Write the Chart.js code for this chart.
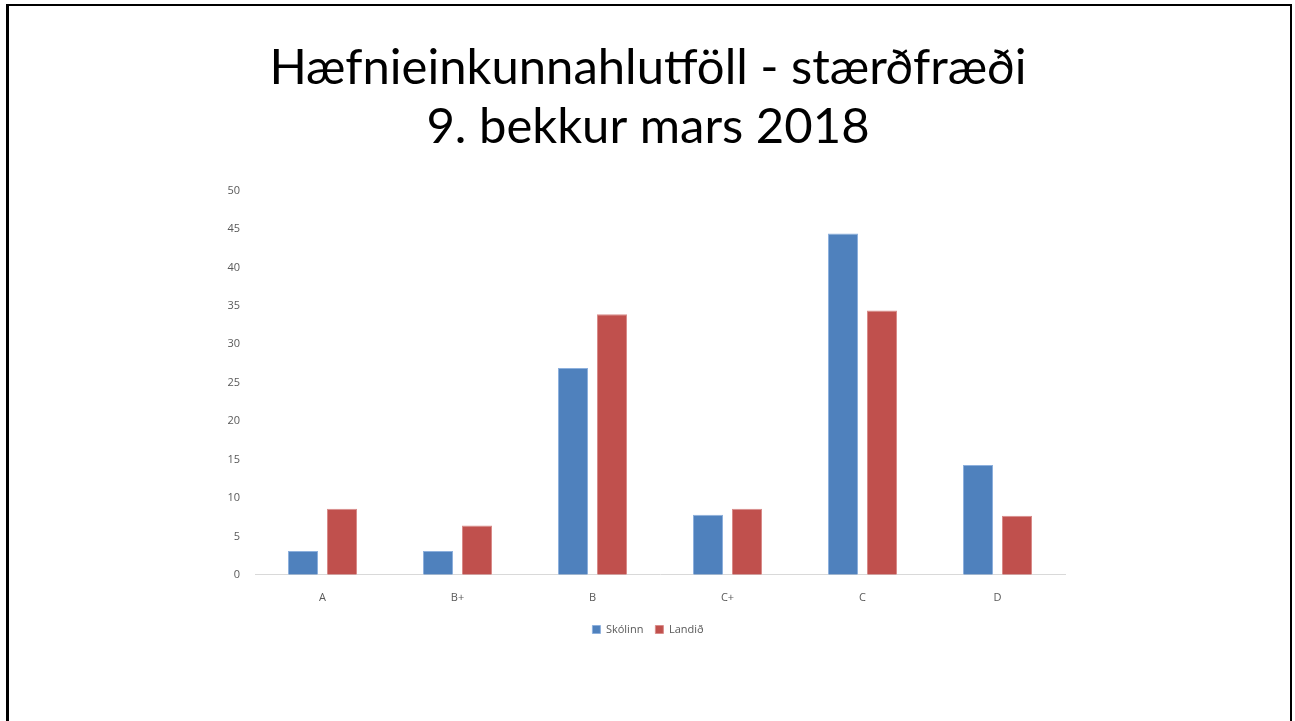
<!DOCTYPE html>
<html>
<head>
<meta charset="utf-8">
<script src="https://cdn.jsdelivr.net/npm/chart.js@4.4.0/dist/chart.umd.min.js"></script>
<style>
  html, body { margin: 0; padding: 0; background: #fff; overflow: hidden; }
  #frame {
    position: absolute; left: 6px; top: 4px; width: 1281px; height: 730px;
    border: 2px solid #000; border-left-width: 3px; border-bottom: none;
  }
  #wrap { position: absolute; left: 0; top: 0; width: 1295px; height: 721px; }
</style>
</head>
<body>
<div id="frame"></div>
<div id="wrap"><canvas id="mainChart" width="1295" height="721"></canvas></div>
<script>
const categories = ['A', 'B+', 'B', 'C+', 'C', 'D']
const skolinn = [3.1, 3.1, 26.9, 7.8, 44.4, 14.3]
const landid = [8.6, 6.4, 33.9, 8.6, 34.4, 7.7]
const titleLines = ['Hæfnieinkunnahlutföll - stærðfræði', '9. bekkur mars 2018']

const fontFamily = '"Open Sans", "Noto Sans", sans-serif'

new Chart(document.getElementById('mainChart'), {
    type: 'bar',
    data: {
        labels: categories,
        datasets: [
            {
                label: 'Skólinn',
                data: skolinn,
                backgroundColor: '#4F81BD',
                borderColor: '#8DB0DD',
                borderWidth: 1
            },
            {
                label: 'Landið',
                data: landid,
                backgroundColor: '#C0504D',
                borderColor: '#D98C8A',
                borderWidth: 1
            }
        ]
    },
    options: {
        responsive: false,
        animation: false,
        layout: {
            padding: { left: 211, right: 210, top: 38, bottom: 76 }
        },
        datasets: {
            bar: {
                categoryPercentage: 0.578,
                barPercentage: 0.77
            }
        },
        plugins: {
            title: {
                display: true,
                text: titleLines,
                color: '#000',
                font: { family: 'Lato, "Open Sans", sans-serif', size: 49, weight: 'normal', lineHeight: 1.22 },
                padding: { top: 0, bottom: 33 }
            },
            legend: {
                position: 'bottom',
                labels: {
                    boxWidth: 8,
                    boxHeight: 8,
                    color: '#595959',
                    font: { family: fontFamily, size: 11 },
                    padding: 12
                }
            },
            tooltip: { enabled: false }
        },
        scales: {
            x: {
                grid: { display: false },
                border: { display: true, color: '#d9d9d9', dash: [3, 3] },
                ticks: { color: '#595959', font: { family: fontFamily, size: 11 }, padding: 8 }
            },
            y: {
                min: 0,
                max: 50,
                grid: { display: false, drawTicks: false },
                border: { display: false },
                ticks: { stepSize: 5, color: '#595959', font: { family: fontFamily, size: 11 }, padding: 15 },
                afterFit: (scale) => { scale.width = 44 }
            },
            // empty right axis, only keeps the title centred like the original
            y2: {
                position: 'right',
                grid: { display: false, drawTicks: false },
                border: { display: false },
                ticks: { display: false },
                afterFit: (scale) => { scale.width = 20 }
            }
        }
    }
})
</script>
</body>
</html>
